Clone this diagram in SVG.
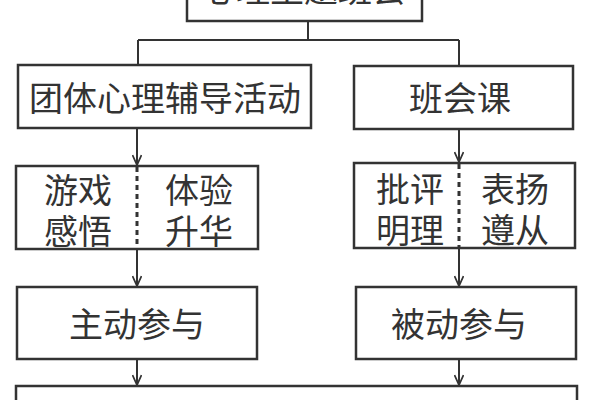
<svg xmlns="http://www.w3.org/2000/svg" width="600" height="400" viewBox="0 0 600 400">
<defs>
<style>
.box{fill:#fff;stroke:#333;stroke-width:2.5}
.ln{fill:none;stroke:#333;stroke-width:2}
.dv{fill:none;stroke:#333;stroke-width:3;stroke-dasharray:5 4}
.t{font-family:"Noto Sans CJK SC","Noto Sans",sans-serif;font-size:34px;fill:#333;text-anchor:middle;dominant-baseline:central}
.tb{font-family:"Noto Sans CJK SC","Noto Sans",sans-serif;font-size:34px;fill:#333;text-anchor:middle}
</style>
<marker id="arr" viewBox="0 0 12 10" refX="11" refY="5" markerWidth="12" markerHeight="10" markerUnits="userSpaceOnUse" orient="auto">
<path d="M1,0.5 L11,5 L1,9.5" fill="none" stroke="#333" stroke-width="1.8"/>
</marker>
</defs>
<rect width="600" height="400" fill="#fff"/>
<g id="connectors">
<path class="ln" d="M308,21 V40 M138,40 H459 M138,40 V65 M459,40 V66"/>
<path class="ln" d="M137,128 V165" marker-end="url(#arr)"/>
<path class="ln" d="M459,129 V162" marker-end="url(#arr)"/>
<path class="ln" d="M137,249 V286" marker-end="url(#arr)"/>
<path class="ln" d="M459,248 V286" marker-end="url(#arr)"/>
<path class="ln" d="M137,359 V385" marker-end="url(#arr)"/>
<path class="ln" d="M459,359 V385" marker-end="url(#arr)"/>
</g>
<g id="top">
<rect class="box" x="187" y="-30" width="235" height="51"/>
<text class="tb" x="304" y="2">心理主题班会</text>
</g>
<g id="tuanti">
<rect class="box" x="18" y="65" width="293" height="63"/>
<text class="t" x="165" y="96">团体心理辅导活动</text>
</g>
<g id="banhui">
<rect class="box" x="354" y="66" width="219" height="63"/>
<text class="t" x="460" y="96">班会课</text>
</g>
<g id="youxi">
<rect class="box" x="16" y="166" width="242" height="83"/>
<line class="dv" x1="137" y1="167" x2="137" y2="248"/>
<text class="t" x="78" y="188">游戏</text>
<text class="t" x="78" y="229">感悟</text>
<text class="t" x="199" y="188">体验</text>
<text class="t" x="199" y="229">升华</text>
</g>
<g id="piping">
<rect class="box" x="354" y="163" width="221" height="85"/>
<line class="dv" x1="459" y1="164" x2="459" y2="247"/>
<text class="t" x="410" y="187">批评</text>
<text class="t" x="410" y="228">明理</text>
<text class="t" x="515" y="187">表扬</text>
<text class="t" x="515" y="228">遵从</text>
</g>
<g id="zhudong">
<rect class="box" x="17" y="287" width="240" height="72"/>
<text class="t" x="137" y="322">主动参与</text>
</g>
<g id="beidong">
<rect class="box" x="356" y="287" width="220" height="72"/>
<text class="t" x="459" y="322">被动参与</text>
</g>
<g id="bottom">
<rect class="box" x="16" y="386" width="561" height="40"/>
</g>
</svg>
